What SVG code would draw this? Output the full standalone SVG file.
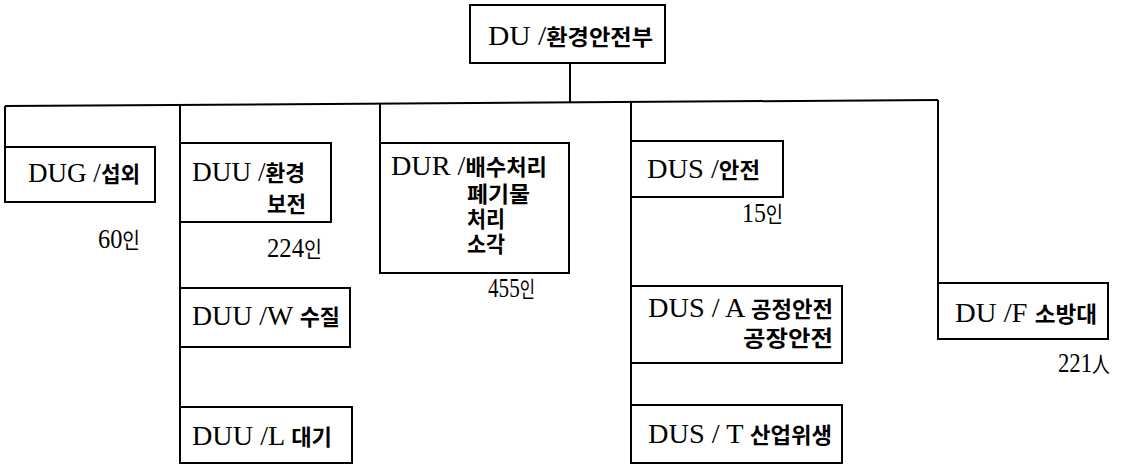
<svg xmlns="http://www.w3.org/2000/svg" width="1125" height="467" viewBox="0 0 1125 467">
<style>
.box{fill:#fff;stroke:#000;stroke-width:2}
.ln{stroke:#000;stroke-width:2;fill:none}
text{font-family:"Liberation Serif","Noto Sans CJK KR",serif;font-size:28px;fill:#000}
.k{font-family:"Noto Sans CJK KR","Noto Sans CJK JP",sans-serif;font-size:22px;font-weight:700}
.n{font-family:"Noto Sans CJK KR","Noto Sans CJK JP",sans-serif;font-size:22px;font-weight:400}
</style>
<rect width="1125" height="467" fill="#fff"/>
<g id="connectors">
<line class="ln" x1="570" y1="63" x2="570" y2="102"/>
<line class="ln" x1="5" y1="106" x2="938" y2="100"/>
<line class="ln" x1="5" y1="106" x2="5" y2="147"/>
<line class="ln" x1="180" y1="105" x2="180" y2="463"/>
<line class="ln" x1="380" y1="103" x2="380" y2="143"/>
<line class="ln" x1="631" y1="101" x2="631" y2="463"/>
<line class="ln" x1="938" y1="100" x2="938" y2="283"/>
</g>
<g id="du">
<rect class="box" x="470" y="5" width="195" height="58"/>
<text x="488" y="45" textLength="165" lengthAdjust="spacingAndGlyphs">DU /<tspan class="k">환경안전부</tspan></text>
</g>
<g id="dug">
<rect class="box" x="5" y="147" width="150" height="55"/>
<text x="28" y="182" textLength="112" lengthAdjust="spacingAndGlyphs">DUG /<tspan class="k">섭외</tspan></text>
<text x="98" y="248" textLength="42" lengthAdjust="spacingAndGlyphs">60<tspan class="n">인</tspan></text>
</g>
<g id="duu">
<rect class="box" x="180" y="143" width="151" height="79"/>
<text x="192" y="181" textLength="113" lengthAdjust="spacingAndGlyphs">DUU /<tspan class="k">환경</tspan></text>
<text x="267" y="212" textLength="39" lengthAdjust="spacingAndGlyphs" class="k">보전</text>
<text x="267" y="257" textLength="55" lengthAdjust="spacingAndGlyphs">224<tspan class="n">인</tspan></text>
</g>
<g id="duu-w">
<rect class="box" x="180" y="288" width="170" height="59"/>
<text x="192" y="325" textLength="148" lengthAdjust="spacingAndGlyphs">DUU /W <tspan class="k">수질</tspan></text>
</g>
<g id="duu-l">
<rect class="box" x="180" y="407" width="172" height="56"/>
<text x="192" y="445" textLength="140" lengthAdjust="spacingAndGlyphs">DUU /L <tspan class="k">대기</tspan></text>
</g>
<g id="dur">
<rect class="box" x="380" y="143" width="189" height="130"/>
<text x="391" y="175" textLength="156" lengthAdjust="spacingAndGlyphs">DUR /<tspan class="k">배수처리</tspan></text>
<text x="467" y="202" textLength="63" lengthAdjust="spacingAndGlyphs" class="k">폐기물</text>
<text x="467" y="227" textLength="38" lengthAdjust="spacingAndGlyphs" class="k">처리</text>
<text x="467" y="252" textLength="38" lengthAdjust="spacingAndGlyphs" class="k">소각</text>
<text x="488" y="297" textLength="47" lengthAdjust="spacingAndGlyphs">455<tspan class="n">인</tspan></text>
</g>
<g id="dus">
<rect class="box" x="631" y="141" width="152" height="56"/>
<text x="647" y="178" textLength="113" lengthAdjust="spacingAndGlyphs">DUS /<tspan class="k">안전</tspan></text>
<text x="742" y="222" textLength="41" lengthAdjust="spacingAndGlyphs">15<tspan class="n">인</tspan></text>
</g>
<g id="dus-a">
<rect class="box" x="631" y="286" width="211" height="77"/>
<text x="648" y="317" textLength="185" lengthAdjust="spacingAndGlyphs">DUS / A <tspan class="k">공정안전</tspan></text>
<text x="743" y="346" textLength="90" lengthAdjust="spacingAndGlyphs" class="k">공장안전</text>
</g>
<g id="dus-t">
<rect class="box" x="631" y="405" width="211" height="58"/>
<text x="648" y="443" textLength="184" lengthAdjust="spacingAndGlyphs">DUS / T <tspan class="k">산업위생</tspan></text>
</g>
<g id="du-f">
<rect class="box" x="938" y="283" width="170" height="56"/>
<text x="955" y="322" textLength="142" lengthAdjust="spacingAndGlyphs">DU /F <tspan class="k">소방대</tspan></text>
<text x="1058" y="372" textLength="52" lengthAdjust="spacingAndGlyphs">221<tspan class="n">人</tspan></text>
</g>
</svg>
